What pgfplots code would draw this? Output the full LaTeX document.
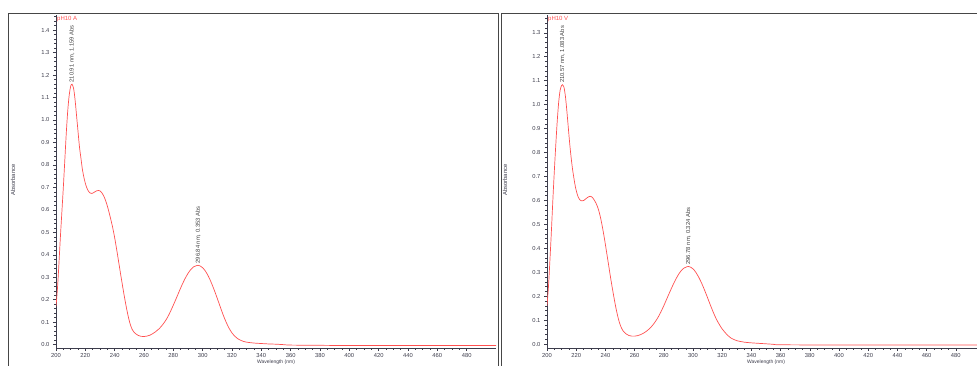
\documentclass[border=0pt]{standalone}
\usepackage{fontspec}
\setmainfont{Liberation Sans}
\usepackage{pgfplots}
\usepackage{pgfplotstable}
\pgfplotsset{compat=1.18}
\definecolor{spec}{RGB}{255,80,80}
\definecolor{tk}{RGB}{60,60,75}
\definecolor{fr}{RGB}{70,70,70}

\pgfplotstableread{
wl a
200 0.17
201 0.25
202 0.36
203 0.48
204 0.59
205 0.70
206 0.82
207 0.94
208 1.04
209 1.11
210 1.150
210.91 1.159
212 1.140
213 1.09
214 1.02
215 0.95
216 0.88
217 0.83
218 0.78
219 0.745
220 0.718
221 0.698
222 0.684
223 0.676
224 0.673
225 0.674
226 0.678
227 0.682
228 0.685
229 0.686
230 0.684
231 0.678
232 0.668
233 0.655
234 0.638
235 0.617
236 0.593
237 0.567
238 0.540
239 0.510
240 0.476
241 0.438
242 0.398
243 0.357
244 0.316
245 0.276
246 0.237
247 0.200
248 0.165
249 0.133
250 0.105
251 0.083
252 0.067
253 0.057
254 0.050
256 0.041
258 0.037
260 0.036
262 0.038
264 0.042
266 0.049
268 0.058
270 0.069
272 0.083
274 0.100
276 0.121
278 0.147
280 0.176
282 0.206
284 0.237
286 0.267
288 0.294
290 0.317
292 0.335
294 0.347
296 0.352
296.84 0.353
298 0.351
300 0.342
302 0.326
304 0.303
306 0.274
308 0.241
310 0.205
312 0.168
314 0.132
316 0.100
318 0.073
320 0.052
322 0.037
324 0.026
326 0.019
328 0.014
330 0.011
335 0.007
340 0.005
345 0.003
350 0.002
355 0.000
360 -0.002
380 -0.003
400 -0.004
450 -0.004
500 -0.004
}\dataA

\pgfplotstableread{
wl a
200 0.16
201 0.24
202 0.35
203 0.47
204 0.60
205 0.72
206 0.83
207 0.93
208 1.01
209 1.06
210 1.080
210.57 1.083
211.5 1.075
212.5 1.04
213.5 0.98
214.5 0.91
215.5 0.84
216.5 0.78
217.5 0.73
218.5 0.69
219.5 0.655
220.5 0.630
221.5 0.612
222.5 0.602
223.5 0.598
224.5 0.598
225.5 0.601
226.5 0.606
227.5 0.611
228.5 0.615
229.5 0.617
230.5 0.615
231.5 0.609
232.5 0.600
233.5 0.589
234.5 0.575
235.5 0.556
236.5 0.532
237.5 0.503
238.5 0.470
239.5 0.434
240.5 0.396
241.5 0.357
242.5 0.318
243.5 0.279
244.5 0.242
245.5 0.207
246.5 0.173
247.5 0.142
248.5 0.115
249.5 0.092
250.5 0.074
252 0.056
254 0.043
256 0.036
258 0.033
260 0.033
262 0.035
264 0.039
266 0.045
268 0.053
270 0.063
272 0.076
274 0.092
276 0.111
278 0.134
280 0.160
282 0.188
284 0.216
286 0.243
288 0.268
290 0.290
292 0.307
294 0.318
296 0.323
296.78 0.324
298 0.322
300 0.314
302 0.299
304 0.278
306 0.253
308 0.224
310 0.193
312 0.161
314 0.131
316 0.104
318 0.082
320 0.063
322 0.048
324 0.035
326 0.025
328 0.019
330 0.014
335 0.008
340 0.005
345 0.003
350 0.001
355 -0.001
360 -0.003
400 -0.004
500 -0.004
}\dataV

\tikzset{
  ann/.style={rotate=90, anchor=west, font=\fontsize{5.8}{6.5}\selectfont, text=black!75, inner sep=1pt},
}
\pgfplotsset{
  panel/.style={
    scale only axis,
    height=333pt,
    anchor=south west,
    axis lines=left,
    axis line style={-, draw=tk, line width=0.6pt},
    xmin=200, xmax=500,
    xtick={200,220,...,480},
    minor x tick num=3,
    ytick={0,0.1,...,1.45},
    minor y tick num=4,
    tick align=outside,
    major tick length=3pt,
    minor tick length=1.8pt,
    every tick/.style={draw=tk, line width=0.4pt},
    tick label style={font=\fontsize{5.8}{6.5}\selectfont, text=tk},
    xticklabel style={yshift=1pt},
    yticklabel style={/pgf/number format/.cd, fixed, fixed zerofill, precision=1},
    xticklabel style={/pgf/number format/.cd, 1000 sep={}},
    /pgf/number format/assume math mode=true,
    xtick pos=bottom, ytick pos=left,
    clip=true,
  },
  curve/.style={draw=spec, line width=0.7pt, no markers, smooth},
}

\begin{document}
\begin{tikzpicture}[x=1pt,y=1pt]
\useasboundingbox (0pt,0pt) rectangle (977pt,365pt);
\clip (0pt,0pt) rectangle (977pt,365pt);

% panel frames
\draw[fr, line width=1pt] (8pt,-5pt) -- (8pt,351pt) -- (498pt,351pt) -- (498pt,-5pt);
\draw[fr, line width=1pt] (501pt,-5pt) -- (501pt,351pt) -- (990pt,351pt);

% left panel
\begin{axis}[panel, at={(56pt,17pt)}, width=440pt, ymin=-0.015, ymax=1.467]
  \addplot[curve] table[x=wl, y=a] {\dataA};
  \node[ann] at (axis cs:210.91,1.162) {210.91 nm, 1.159 Abs};
  \node[ann] at (axis cs:296.84,0.356) {296.84 nm, 0.353 Abs};
\end{axis}
\node[anchor=north west, text=spec, font=\fontsize{6}{7}\selectfont, inner sep=0pt] at (57pt,349pt) {pH10 A};
\node[rotate=90, font=\fontsize{5.8}{6.5}\selectfont, text=tk] at (13pt,185pt) {Absorbance};
\node[font=\fontsize{5}{5.5}\selectfont, text=tk, anchor=south, inner sep=0pt] at (276pt,0.3pt) {Wavelength (nm)};

% right panel
\begin{axis}[panel, at={(547pt,17pt)}, width=438pt, ymin=-0.0165, ymax=1.374]
  \addplot[curve] table[x=wl, y=a] {\dataV};
  \node[ann] at (axis cs:210.57,1.086) {210.57 nm, 1.083 Abs};
  \node[ann] at (axis cs:296.78,0.327) {296.78 nm, 0.324 Abs};
\end{axis}
\node[anchor=north west, text=spec, font=\fontsize{6}{7}\selectfont, inner sep=0pt] at (548pt,349pt) {pH10 V};
\node[rotate=90, font=\fontsize{5.8}{6.5}\selectfont, text=tk] at (505pt,185pt) {Absorbance};
\node[font=\fontsize{5}{5.5}\selectfont, text=tk, anchor=south, inner sep=0pt] at (766pt,0.3pt) {Wavelength (nm)};
\end{tikzpicture}
\end{document}
